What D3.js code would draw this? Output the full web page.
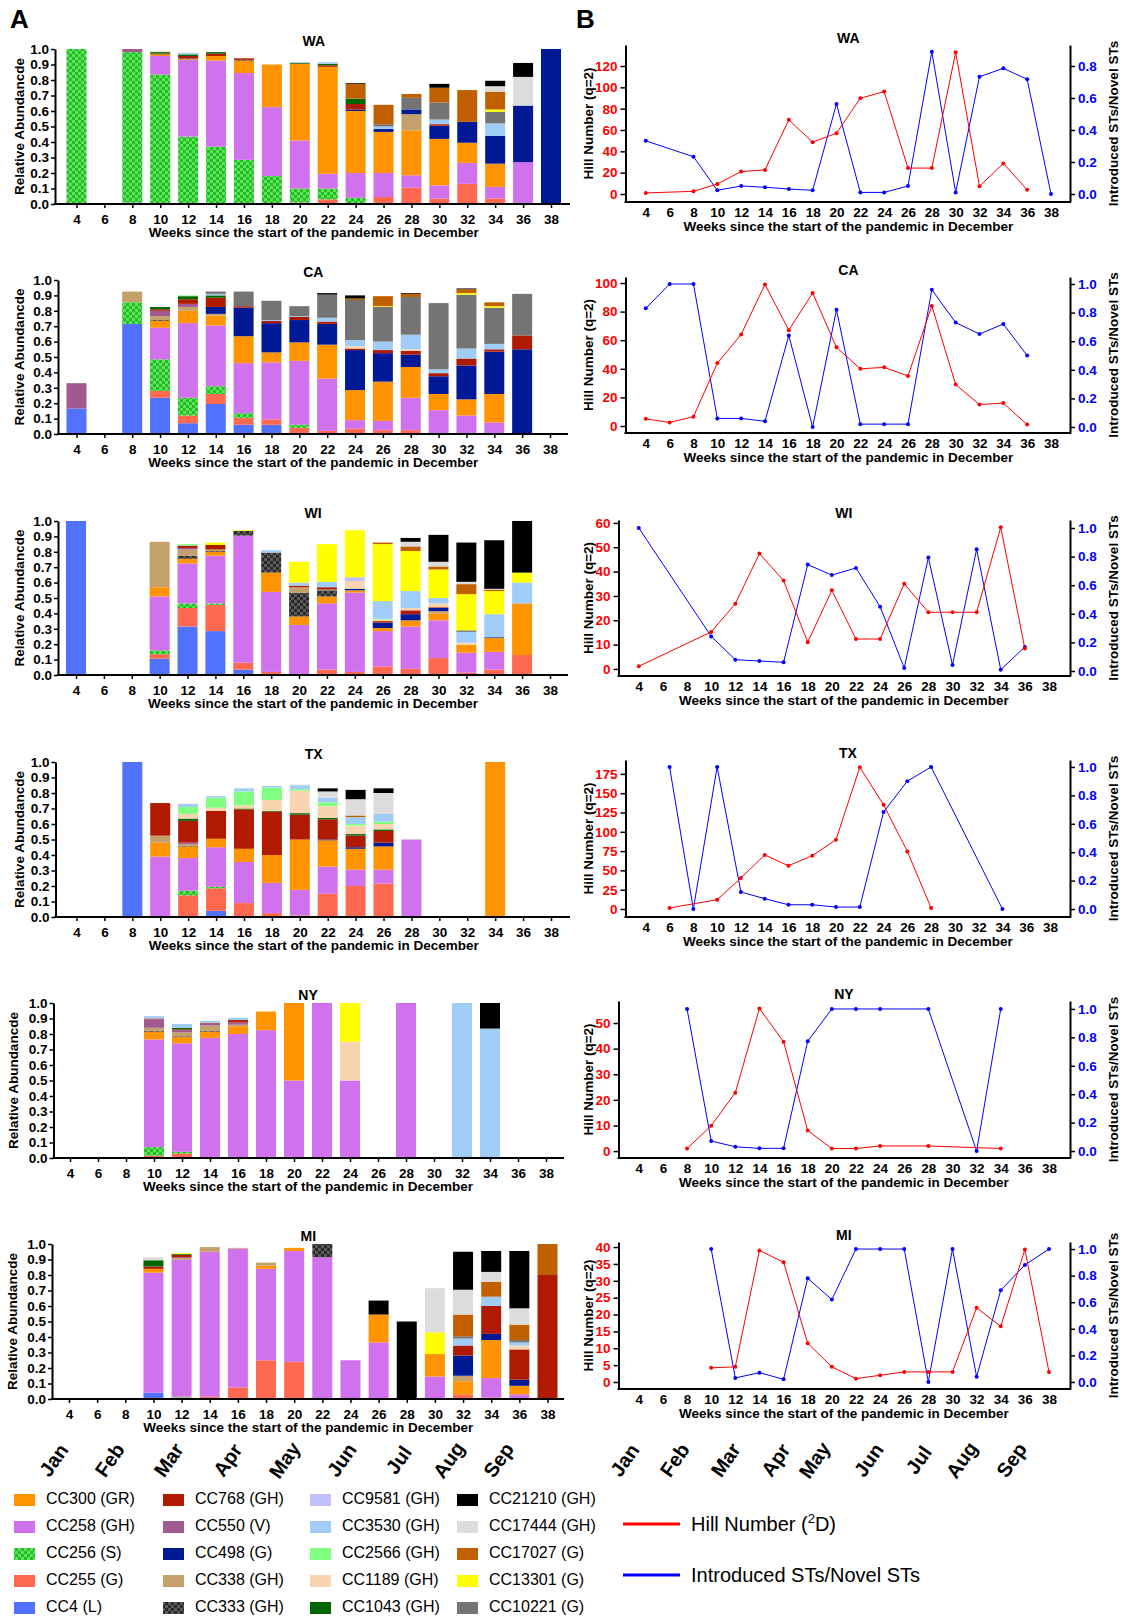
<!DOCTYPE html>
<html><head><meta charset="utf-8">
<script src="https://cdn.jsdelivr.net/npm/d3@7"></script>
<style>
body{margin:0;background:#fff;}
svg text{font-family:"Liberation Sans",Arial,Helvetica,sans-serif;}
</style></head><body>
<svg id="chart" width="1122" height="1619"></svg>
<script>
// ---------------- DATA ----------------
const weeks = [4,6,8,10,12,14,16,18,20,22,24,26,28,30,32,34,36,38];
const months = ["Jan","Feb","Mar","Apr","May","Jun","Jul","Aug","Sep"];
const ccKeys = ["CC4","CC255","CC256","CC258","CC300","CC333","CC338","CC498","CC550","CC768","CC1043","CC1189","CC2566","CC3530","CC9581","CC10221","CC13301","CC17027","CC17444","CC21210"];
const ccNames = {CC300:"CC300 (GR)",CC258:"CC258 (GH)",CC256:"CC256 (S)",CC255:"CC255 (G)",CC4:"CC4 (L)",
  CC768:"CC768 (GH)",CC550:"CC550 (V)",CC498:"CC498 (G)",CC338:"CC338 (GH)",CC333:"CC333 (GH)",
  CC9581:"CC9581 (GH)",CC3530:"CC3530 (GH)",CC2566:"CC2566 (GH)",CC1189:"CC1189 (GH)",CC1043:"CC1043 (GH)",
  CC21210:"CC21210 (GH)",CC17444:"CC17444 (GH)",CC17027:"CC17027 (G)",CC13301:"CC13301 (G)",CC10221:"CC10221 (G)"};
const legendColumns = [
  ["CC300","CC258","CC256","CC255","CC4"],
  ["CC768","CC550","CC498","CC338","CC333"],
  ["CC9581","CC3530","CC2566","CC1189","CC1043"],
  ["CC21210","CC17444","CC17027","CC13301","CC10221"]];
const lineLegend = ["Hill Number (", "2", "D)", "Introduced STs/Novel STs"];

const WA_bars = [
 {week:4, CC256:1.0},
 {week:8, CC4:0.01, CC256:0.97, CC550:0.02},
 {week:10, CC255:0.005, CC256:0.83, CC258:0.12, CC300:0.01, CC768:0.005, CC1043:0.01, CC1189:0.005},
 {week:12, CC256:0.435, CC258:0.495, CC300:0.005, CC333:0.005, CC768:0.015, CC1043:0.01, CC3530:0.01},
 {week:14, CC256:0.37, CC258:0.555, CC300:0.03, CC768:0.015, CC1043:0.01},
 {week:16, CC255:0.005, CC256:0.28, CC258:0.56, CC300:0.08, CC333:0.005, CC768:0.01},
 {week:18, CC256:0.18, CC258:0.445, CC300:0.275},
 {week:20, CC255:0.01, CC256:0.09, CC258:0.31, CC300:0.495, CC1043:0.005, CC3530:0.005},
 {week:22, CC255:0.03, CC256:0.07, CC258:0.095, CC300:0.69, CC768:0.01, CC1043:0.01, CC3530:0.01},
 {week:24, CC255:0.005, CC256:0.035, CC258:0.16, CC300:0.40, CC498:0.01, CC768:0.035, CC1043:0.035, CC17027:0.095, CC21210:0.005},
 {week:26, CC255:0.045, CC258:0.155, CC300:0.265, CC498:0.02, CC3530:0.015, CC10221:0.015, CC17027:0.125},
 {week:28, CC255:0.105, CC258:0.08, CC300:0.29, CC338:0.105, CC498:0.03, CC10221:0.075, CC17027:0.025},
 {week:30, CC255:0.035, CC258:0.085, CC300:0.30, CC498:0.085, CC768:0.01, CC3530:0.03, CC10221:0.11, CC17027:0.095, CC21210:0.025},
 {week:32, CC255:0.13, CC258:0.135, CC300:0.13, CC498:0.135, CC17027:0.205},
 {week:34, CC255:0.035, CC258:0.075, CC300:0.15, CC498:0.18, CC3530:0.08, CC10221:0.075, CC13301:0.015, CC17027:0.115, CC17444:0.035, CC21210:0.035},
 {week:36, CC258:0.27, CC498:0.365, CC17444:0.185, CC21210:0.09},
 {week:38, CC498:1.0}
];
const CA_bars = [
 {week:4, CC4:0.165, CC550:0.165},
 {week:8, CC4:0.715, CC256:0.14, CC338:0.07},
 {week:10, CC4:0.235, CC255:0.045, CC256:0.205, CC258:0.205, CC300:0.045, CC333:0.005, CC338:0.025, CC550:0.035, CC768:0.01, CC1043:0.015},
 {week:12, CC4:0.07, CC255:0.05, CC256:0.115, CC258:0.485, CC300:0.08, CC338:0.025, CC550:0.02, CC768:0.03, CC1043:0.02, CC2566:0.005},
 {week:14, CC4:0.195, CC255:0.065, CC256:0.05, CC258:0.395, CC300:0.065, CC338:0.01, CC498:0.045, CC768:0.06, CC1043:0.015, CC3530:0.01, CC10221:0.015},
 {week:16, CC4:0.06, CC255:0.045, CC256:0.03, CC258:0.325, CC300:0.175, CC498:0.185, CC768:0.01, CC10221:0.095},
 {week:18, CC4:0.06, CC255:0.035, CC258:0.37, CC300:0.065, CC498:0.19, CC768:0.015, CC3530:0.005, CC10221:0.125},
 {week:20, CC255:0.04, CC256:0.02, CC258:0.415, CC300:0.12, CC498:0.145, CC768:0.02, CC3530:0.005, CC10221:0.065},
 {week:22, CC255:0.02, CC258:0.34, CC300:0.22, CC498:0.135, CC768:0.015, CC3530:0.025, CC10221:0.15, CC21210:0.01},
 {week:24, CC255:0.035, CC258:0.055, CC300:0.195, CC498:0.26, CC768:0.01, CC1189:0.015, CC3530:0.04, CC10221:0.26, CC17027:0.01, CC21210:0.02},
 {week:26, CC255:0.025, CC258:0.06, CC300:0.255, CC498:0.185, CC768:0.02, CC3530:0.055, CC10221:0.225, CC13301:0.005, CC17027:0.065},
 {week:28, CC255:0.025, CC258:0.21, CC300:0.20, CC498:0.08, CC768:0.025, CC1189:0.01, CC3530:0.095, CC10221:0.245, CC17027:0.02, CC21210:0.005},
 {week:30, CC258:0.155, CC300:0.105, CC498:0.115, CC768:0.02, CC3530:0.025, CC10221:0.43},
 {week:32, CC258:0.12, CC300:0.105, CC498:0.22, CC768:0.045, CC3530:0.065, CC10221:0.35, CC13301:0.01, CC17027:0.025, CC21210:0.005},
 {week:34, CC258:0.075, CC300:0.185, CC498:0.275, CC768:0.015, CC3530:0.035, CC10221:0.235, CC13301:0.01, CC17027:0.025},
 {week:36, CC498:0.55, CC768:0.09, CC10221:0.27}
];
const WI_bars = [
 {week:4, CC4:1.0},
 {week:10, CC4:0.105, CC255:0.03, CC256:0.025, CC258:0.35, CC300:0.06, CC338:0.295},
 {week:12, CC4:0.315, CC255:0.12, CC256:0.03, CC258:0.26, CC300:0.03, CC333:0.02, CC338:0.04, CC550:0.01, CC768:0.015, CC2566:0.01},
 {week:14, CC4:0.285, CC255:0.17, CC256:0.01, CC258:0.31, CC300:0.025, CC333:0.005, CC338:0.01, CC768:0.03, CC13301:0.015},
 {week:16, CC4:0.035, CC255:0.045, CC258:0.825, CC333:0.03, CC13301:0.005},
 {week:18, CC255:0.02, CC258:0.52, CC300:0.125, CC333:0.13, CC3530:0.015},
 {week:20, CC258:0.325, CC300:0.055, CC333:0.155, CC338:0.035, CC768:0.01, CC3530:0.02, CC13301:0.135},
 {week:22, CC255:0.035, CC258:0.43, CC300:0.045, CC333:0.04, CC338:0.005, CC768:0.015, CC3530:0.035, CC13301:0.245},
 {week:24, CC255:0.02, CC258:0.515, CC300:0.015, CC498:0.01, CC1189:0.05, CC9581:0.025, CC13301:0.305},
 {week:26, CC255:0.055, CC258:0.23, CC300:0.02, CC498:0.035, CC768:0.01, CC1189:0.01, CC2566:0.005, CC3530:0.115, CC13301:0.37, CC17027:0.01},
 {week:28, CC255:0.04, CC258:0.275, CC300:0.04, CC498:0.04, CC768:0.025, CC1189:0.015, CC3530:0.11, CC13301:0.26, CC17027:0.03, CC17444:0.03, CC21210:0.025},
 {week:30, CC255:0.11, CC258:0.245, CC300:0.045, CC338:0.015, CC498:0.02, CC768:0.005, CC1189:0.025, CC3530:0.035, CC13301:0.185, CC17027:0.02, CC17444:0.03, CC21210:0.175},
 {week:32, CC255:0.015, CC258:0.13, CC300:0.05, CC1189:0.015, CC3530:0.07, CC10221:0.01, CC13301:0.235, CC17027:0.065, CC17444:0.015, CC21210:0.255},
 {week:34, CC255:0.035, CC258:0.115, CC300:0.09, CC498:0.005, CC3530:0.15, CC13301:0.15, CC17027:0.01, CC17444:0.005, CC21210:0.315},
 {week:36, CC255:0.13, CC300:0.335, CC3530:0.135, CC13301:0.065, CC21210:0.335}
];
const TX_bars = [
 {week:8, CC4:1.0},
 {week:10, CC258:0.39, CC300:0.09, CC338:0.045, CC768:0.21},
 {week:12, CC255:0.14, CC256:0.03, CC258:0.21, CC300:0.075, CC333:0.005, CC338:0.01, CC550:0.01, CC768:0.14, CC1043:0.015, CC1189:0.03, CC2566:0.045, CC3530:0.02},
 {week:14, CC4:0.04, CC255:0.145, CC256:0.01, CC258:0.255, CC300:0.055, CC768:0.18, CC1189:0.02, CC2566:0.065, CC3530:0.01},
 {week:16, CC255:0.09, CC258:0.265, CC300:0.085, CC768:0.255, CC1043:0.005, CC1189:0.02, CC2566:0.09, CC3530:0.02},
 {week:18, CC255:0.025, CC258:0.195, CC300:0.18, CC768:0.28, CC1043:0.005, CC1189:0.07, CC2566:0.08, CC3530:0.01},
 {week:20, CC255:0.01, CC258:0.165, CC300:0.325, CC768:0.16, CC1043:0.01, CC1189:0.145, CC2566:0.01, CC3530:0.025, CC17444:0.005},
 {week:22, CC255:0.15, CC258:0.175, CC300:0.17, CC498:0.005, CC768:0.13, CC1043:0.01, CC1189:0.075, CC2566:0.025, CC3530:0.03, CC17444:0.04, CC21210:0.02},
 {week:24, CC255:0.20, CC258:0.105, CC300:0.135, CC498:0.01, CC768:0.075, CC1043:0.01, CC1189:0.055, CC2566:0.01, CC3530:0.045, CC17027:0.01, CC17444:0.105, CC21210:0.06},
 {week:26, CC255:0.215, CC258:0.09, CC300:0.15, CC498:0.025, CC768:0.075, CC1043:0.01, CC1189:0.035, CC2566:0.015, CC3530:0.05, CC17444:0.135, CC21210:0.03},
 {week:28, CC258:0.5},
 {week:34, CC300:1.0}
];
const NY_bars = [
 {week:10, CC255:0.015, CC256:0.055, CC258:0.695, CC300:0.05, CC333:0.005, CC338:0.02, CC550:0.055, CC768:0.005, CC3530:0.015},
 {week:12, CC255:0.03, CC256:0.01, CC258:0.70, CC300:0.04, CC333:0.005, CC338:0.025, CC550:0.015, CC768:0.005, CC1043:0.01, CC3530:0.025},
 {week:14, CC258:0.775, CC300:0.04, CC333:0.005, CC338:0.035, CC550:0.01, CC768:0.005, CC3530:0.015},
 {week:16, CC258:0.80, CC300:0.05, CC338:0.01, CC550:0.015, CC768:0.015, CC3530:0.015},
 {week:18, CC258:0.825, CC300:0.12},
 {week:20, CC258:0.5, CC300:0.5},
 {week:22, CC258:1.0},
 {week:24, CC258:0.5, CC1189:0.25, CC13301:0.25},
 {week:28, CC258:1.0},
 {week:32, CC3530:1.0},
 {week:34, CC3530:0.835, CC21210:0.165}
];
const MI_bars = [
 {week:10, CC4:0.04, CC258:0.775, CC300:0.025, CC768:0.015, CC1043:0.04, CC17444:0.02},
 {week:12, CC255:0.01, CC256:0.005, CC258:0.885, CC338:0.01, CC550:0.005, CC768:0.015, CC1043:0.005, CC13301:0.005},
 {week:14, CC255:0.015, CC258:0.935, CC338:0.03},
 {week:16, CC255:0.075, CC258:0.895, CC338:0.005},
 {week:18, CC255:0.25, CC258:0.59, CC300:0.02, CC338:0.02},
 {week:20, CC255:0.24, CC258:0.715, CC300:0.02},
 {week:22, CC258:0.915, CC333:0.085},
 {week:24, CC258:0.25},
 {week:26, CC258:0.365, CC300:0.18, CC21210:0.09},
 {week:28, CC21210:0.5},
 {week:30, CC258:0.145, CC300:0.145, CC13301:0.14, CC17444:0.285},
 {week:32, CC255:0.03, CC300:0.085, CC338:0.035, CC498:0.13, CC768:0.065, CC3530:0.045, CC10221:0.015, CC17027:0.14, CC17444:0.16, CC21210:0.245},
 {week:34, CC255:0.01, CC258:0.125, CC300:0.245, CC498:0.04, CC768:0.18, CC3530:0.06, CC17027:0.095, CC17444:0.065, CC21210:0.135},
 {week:36, CC255:0.005, CC258:0.025, CC300:0.055, CC498:0.04, CC768:0.195, CC1189:0.025, CC3530:0.02, CC10221:0.015, CC17027:0.10, CC17444:0.105, CC21210:0.37},
 {week:38, CC768:0.8, CC17027:0.2}
];

const WA_hill = [[4,1],[8,2.5],[10,9.4],[12,21],[14,22.6],[16,69.5],[18,48.6],[20,57],[22,89.8],[24,96],[26,24.3],[28,24.3],[30,132.8],[32,7.2],[34,28.7],[36,4]];
const WA_intro = [[4,0.332],[8,0.233],[10,0.023],[12,0.05],[14,0.042],[16,0.031],[18,0.023],[20,0.563],[22,0.01],[24,0.01],[26,0.05],[28,0.889],[30,0.01],[32,0.733],[34,0.785],[36,0.717],[38,0]];
const CA_hill = [[4,5],[6,2.5],[8,6.5],[10,44],[12,64],[14,99],[16,67],[18,93],[20,55],[22,40],[24,41],[26,35],[28,84],[30,29],[32,15],[34,16],[36,1]];
const CA_intro = [[4,0.83],[6,1.0],[8,1.0],[10,0.06],[12,0.06],[14,0.04],[16,0.64],[18,0.0],[20,0.82],[22,0.02],[24,0.02],[26,0.02],[28,0.96],[30,0.73],[32,0.65],[34,0.72],[36,0.50]];
const WI_hill = [[4,1.1],[10,15.2],[12,26.8],[14,47.4],[16,36.3],[18,11],[20,32.3],[22,12.3],[24,12.3],[26,35],[28,23.3],[30,23.3],[32,23.3],[34,58.2],[36,8.4]];
const WI_intro = [[4,1.0],[10,0.242],[12,0.079],[14,0.07],[16,0.061],[18,0.744],[20,0.671],[22,0.72],[24,0.45],[26,0.021],[28,0.793],[30,0.042],[32,0.851],[34,0.009],[36,0.168]];
const TX_hill = [[6,1.3],[10,12],[12,40],[14,70],[16,56],[18,69],[20,89.7],[22,183.6],[24,135],[26,74.6],[28,1.3]];
const TX_intro = [[6,1.0],[8,0.0],[10,1.0],[12,0.12],[14,0.073],[16,0.03],[18,0.03],[20,0.014],[22,0.014],[24,0.683],[26,0.9],[28,1.0],[34,0.0]];
const NY_hill = [[8,1],[10,9.9],[12,22.8],[14,55.7],[16,42.7],[18,8],[20,1],[22,1],[24,2],[28,2],[34,1]];
const NY_intro = [[8,1.0],[10,0.07],[12,0.03],[14,0.019],[16,0.019],[18,0.773],[20,1.0],[22,1.0],[24,1.0],[28,1.0],[32,0.0],[34,1.0]];
const MI_hill = [[10,4.2],[12,4.5],[14,39],[16,35.5],[18,11.5],[20,4.5],[22,1],[24,2],[26,3],[28,3],[30,3],[32,22],[34,16.5],[36,39.3],[38,3]];
const MI_intro = [[10,1.0],[12,0.03],[14,0.07],[16,0.02],[18,0.78],[20,0.62],[22,1.0],[24,1.0],[26,1.0],[28,0.0],[30,1.0],[32,0.04],[34,0.69],[36,0.88],[38,1.0]];

const WA_hillTicks = [0,20,40,60,80,100,120];
const CA_hillTicks = [0,20,40,60,80,100];
const WI_hillTicks = [0,10,20,30,40,50,60];
const TX_hillTicks = [0,25,50,75,100,125,150,175];
const NY_hillTicks = [0,10,20,30,40,50];
const MI_hillTicks = [0,5,10,15,20,25,30,35,40];
const introTicks8 = [0,0.2,0.4,0.6,0.8];
const introTicks10 = [0,0.2,0.4,0.6,0.8,1.0];
const abundanceTicks = [0,0.1,0.2,0.3,0.4,0.5,0.6,0.7,0.8,0.9,1.0];

// ---------------- STYLE ----------------
const ccColors = {CC300:"#FF9400",CC258:"#D071EE",CC256:"url(#pat256)",CC255:"#FF6950",CC4:"#5072FF",
  CC768:"#B01A00",CC550:"#A05A90",CC498:"#001A96",CC338:"#C4A06A",CC333:"url(#pat333)",
  CC9581:"#C0C0FF",CC3530:"#A0CCF8",CC2566:"#80FF80",CC1189:"#F8D5B0",CC1043:"#006600",
  CC21210:"#000000",CC17444:"#DCDCDC",CC17027:"#C06000",CC13301:"#FFFF00",CC10221:"#747474"};
const RED = "#FF0000", BLUE = "#0000FF";

const svg = d3.select("#chart");
svg.append("rect").attr("width",1122).attr("height",1619).attr("fill","#fff");
const defs = svg.append("defs");
function checker(id, base, alt, s){
  const p = defs.append("pattern").attr("id",id).attr("width",2*s).attr("height",2*s).attr("patternUnits","userSpaceOnUse");
  p.append("rect").attr("width",2*s).attr("height",2*s).attr("fill",base);
  p.append("rect").attr("width",s).attr("height",s).attr("fill",alt);
  p.append("rect").attr("x",s).attr("y",s).attr("width",s).attr("height",s).attr("fill",alt);
}
checker("pat256","#22BE22","#5EE25E",3);
checker("pat333","#2A2A2A","#5A5A5A",3);

const leftLayout = {
  WA:{axisX:55, x4:76.5, x38:551, xEnd:570, top:49, bottom:204, labelX:20},
  CA:{axisX:58, x4:76.5, x38:550, xEnd:568, top:280, bottom:434, labelX:20},
  WI:{axisX:58, x4:76, x38:550, xEnd:568, top:521, bottom:675, labelX:20},
  TX:{axisX:55.5, x4:76.5, x38:551, xEnd:570, top:762, bottom:917, labelX:20},
  NY:{axisX:53.5, x4:70, x38:546, xEnd:564, top:1003, bottom:1158, labelX:14},
  MI:{axisX:52, x4:69, x38:547.5, xEnd:564, top:1244, bottom:1399, labelX:13}
};
const rightLayout = {
  WA:{lx:625.5, rx:1070, x4:645.8, x38:1051, top:45, bottom:202, hill:[-7.5,139.7], intro:[-0.05,0.931]},
  CA:{lx:625.5, rx:1070, x4:645.8, x38:1051, top:277, bottom:433, hill:[-4.9,104.2], intro:[-0.042,1.049]},
  WI:{lx:618.5, rx:1070, x4:638.8, x38:1049, top:520, bottom:676, hill:[-2.9,61.2], intro:[-0.035,1.056]},
  TX:{lx:625.5, rx:1070, x4:645.8, x38:1050, top:760, bottom:917, hill:[-10.4,193], intro:[-0.056,1.049]},
  NY:{lx:618.5, rx:1070, x4:638.8, x38:1049, top:1001, bottom:1158, hill:[-2.7,58.6], intro:[-0.049,1.056]},
  MI:{lx:618.5, rx:1070, x4:638.8, x38:1049, top:1242, bottom:1389, hill:[-2.07,41.5], intro:[-0.053,1.053]}
};
const barW = 20;
const xTitle = "Weeks since the start of the pandemic in December";
const FS = 13.5;

function styleAxis(g, color){
  g.select(".domain").attr("stroke","#000").attr("stroke-width",2);
  g.selectAll(".tick line").attr("stroke","#000").attr("stroke-width",1.5);
  g.selectAll(".tick text").attr("font-size",FS).attr("font-weight","bold").attr("fill",color||"#000")
    .style("font-family",'"Liberation Sans",Arial,sans-serif');
}

function drawLeft(state, data){
  const L = leftLayout[state];
  const g = svg.append("g");
  const x = d3.scaleLinear().domain([4,38]).range([L.x4, L.x38]);
  const y = d3.scaleLinear().domain([0,1]).range([L.bottom, L.top]);
  const series = d3.stack().keys(ccKeys).value((d,k)=>d[k]||0)(data);
  series.forEach(s=>{
    g.append("g").selectAll("rect").data(s.filter(p=>p[1]-p[0]>0)).join("rect")
      .attr("x",p=>x(p.data.week)-barW/2).attr("width",barW)
      .attr("y",p=>y(p[1])).attr("height",p=>y(p[0])-y(p[1]))
      .attr("fill",ccColors[s.key]);
  });
  const ya = g.append("g").attr("transform",`translate(${L.axisX},0)`)
    .call(d3.axisLeft(y).tickValues(abundanceTicks).tickFormat(d3.format(".1f")).tickSize(4).tickSizeOuter(0).tickPadding(2));
  styleAxis(ya);
  const xa = g.append("g").attr("transform",`translate(0,${L.bottom})`)
    .call(d3.axisBottom(x).tickValues(weeks).tickFormat(d3.format("d")).tickSize(4).tickSizeOuter(0).tickPadding(6));
  styleAxis(xa);
  xa.select(".domain").remove();
  g.append("line").attr("x1",L.axisX-1).attr("x2",L.xEnd).attr("y1",L.bottom).attr("y2",L.bottom)
    .attr("stroke","#000").attr("stroke-width",2);
  g.append("text").attr("x",(L.x4+L.x38)/2).attr("y",L.bottom+33).attr("text-anchor","middle")
    .attr("font-size",FS).attr("font-weight","bold").text(xTitle);
  g.append("text").attr("x",(L.x4+L.x38)/2).attr("y",L.top-3).attr("text-anchor","middle")
    .attr("font-size",14).attr("font-weight","bold").text(state);
  g.append("text").attr("transform",`translate(${L.labelX},${(L.top+L.bottom)/2}) rotate(-90)`)
    .attr("text-anchor","middle").attr("dominant-baseline","middle")
    .attr("font-size",FS).attr("font-weight","bold").text("Relative Abundancde");
}

function drawRight(state, hill, intro, hillTicks, iTicks){
  const R = rightLayout[state];
  const g = svg.append("g");
  const x = d3.scaleLinear().domain([4,38]).range([R.x4, R.x38]);
  const yH = d3.scaleLinear().domain(R.hill).range([R.bottom, R.top]);
  const yI = d3.scaleLinear().domain(R.intro).range([R.bottom, R.top]);
  const la = g.append("g").attr("transform",`translate(${R.lx},0)`)
    .call(d3.axisLeft(yH).tickValues(hillTicks).tickSize(5).tickSizeOuter(0).tickPadding(3));
  styleAxis(la, RED);
  const ra = g.append("g").attr("transform",`translate(${R.rx},0)`)
    .call(d3.axisRight(yI).tickValues(iTicks).tickFormat(d3.format(".1f")).tickSize(5).tickSizeOuter(0).tickPadding(3));
  styleAxis(ra, BLUE);
  const xa = g.append("g").attr("transform",`translate(0,${R.bottom})`)
    .call(d3.axisBottom(x).tickValues(weeks).tickFormat(d3.format("d")).tickSize(0).tickPadding(5));
  styleAxis(xa);
  xa.select(".domain").remove();
  g.append("line").attr("x1",R.lx-1).attr("x2",R.rx+1).attr("y1",R.bottom).attr("y2",R.bottom)
    .attr("stroke","#000").attr("stroke-width",2);
  const lineH = d3.line().x(d=>x(d[0])).y(d=>yH(d[1]));
  const lineI = d3.line().x(d=>x(d[0])).y(d=>yI(d[1]));
  g.append("path").attr("d",lineI(intro)).attr("fill","none").attr("stroke",BLUE).attr("stroke-width",1);
  g.append("path").attr("d",lineH(hill)).attr("fill","none").attr("stroke",RED).attr("stroke-width",1);
  g.append("g").selectAll("circle").data(intro).join("circle")
    .attr("cx",d=>x(d[0])).attr("cy",d=>yI(d[1])).attr("r",2).attr("fill",BLUE);
  g.append("g").selectAll("circle").data(hill).join("circle")
    .attr("cx",d=>x(d[0])).attr("cy",d=>yH(d[1])).attr("r",2).attr("fill",RED);
  g.append("text").attr("x",(R.x4+R.x38)/2).attr("y",R.bottom+29).attr("text-anchor","middle")
    .attr("font-size",FS).attr("font-weight","bold").text(xTitle);
  g.append("text").attr("x",(R.x4+R.x38)/2).attr("y",R.top-2).attr("text-anchor","middle")
    .attr("font-size",14).attr("font-weight","bold").text(state);
  g.append("text").attr("transform",`translate(589,${(R.top+R.bottom)/2}) rotate(-90)`)
    .attr("text-anchor","middle").attr("dominant-baseline","middle")
    .attr("font-size",FS).attr("font-weight","bold").text("Hill Number (q=2)");
  g.append("text").attr("transform",`translate(1114,${(R.top+R.bottom)/2}) rotate(-90)`)
    .attr("text-anchor","middle").attr("dominant-baseline","middle")
    .attr("font-size",FS).attr("font-weight","bold").text("Introduced STs/Novel STs");
}

drawLeft("WA", WA_bars);
drawLeft("CA", CA_bars);
drawLeft("WI", WI_bars);
drawLeft("TX", TX_bars);
drawLeft("NY", NY_bars);
drawLeft("MI", MI_bars);
drawRight("WA", WA_hill, WA_intro, WA_hillTicks, introTicks8);
drawRight("CA", CA_hill, CA_intro, CA_hillTicks, introTicks10);
drawRight("WI", WI_hill, WI_intro, WI_hillTicks, introTicks10);
drawRight("TX", TX_hill, TX_intro, TX_hillTicks, introTicks10);
drawRight("NY", NY_hill, NY_intro, NY_hillTicks, introTicks10);
drawRight("MI", MI_hill, MI_intro, MI_hillTicks, introTicks10);

// panel letters
svg.append("text").attr("x",10).attr("y",28).attr("font-size",26).attr("font-weight","bold").text("A");
svg.append("text").attr("x",576).attr("y",28).attr("font-size",26).attr("font-weight","bold").text("B");

// month labels
const monthXLeft = [55,111,170,229,286,343,400,450,500];
const monthXRight = [626,676,727,777,816,870,920,963,1013];
[monthXLeft, monthXRight].forEach(xs=>{
  svg.append("g").selectAll("text").data(months).join("text")
    .attr("transform",(d,i)=>`translate(${xs[i]},1461) rotate(-55)`)
    .attr("text-anchor","middle").attr("dominant-baseline","middle")
    .attr("font-size",20).attr("font-weight","bold").text(d=>d);
});

// legend
const legX = [14,163,310,457];
const legY = [1500,1527,1554,1581,1608];
legendColumns.forEach((col,ci)=>{
  col.forEach((k,ri)=>{
    svg.append("rect").attr("x",legX[ci]).attr("y",legY[ri]-6).attr("width",21).attr("height",12).attr("fill",ccColors[k]);
    svg.append("text").attr("x",legX[ci]+32).attr("y",legY[ri]).attr("dominant-baseline","middle")
      .attr("font-size",16).text(ccNames[k]);
  });
});
// line legend
svg.append("line").attr("x1",623).attr("x2",680).attr("y1",1524).attr("y2",1524).attr("stroke",RED).attr("stroke-width",3);
svg.append("line").attr("x1",623).attr("x2",680).attr("y1",1575).attr("y2",1575).attr("stroke",BLUE).attr("stroke-width",3);
const t1 = svg.append("text").attr("x",691).attr("y",1531).attr("font-size",20);
t1.append("tspan").text(lineLegend[0]);
t1.append("tspan").attr("font-size",13).attr("dy",-8).text(lineLegend[1]);
t1.append("tspan").attr("dy",8).text(lineLegend[2]);
svg.append("text").attr("x",691).attr("y",1582).attr("font-size",20).text(lineLegend[3]);
</script>
</body></html>
